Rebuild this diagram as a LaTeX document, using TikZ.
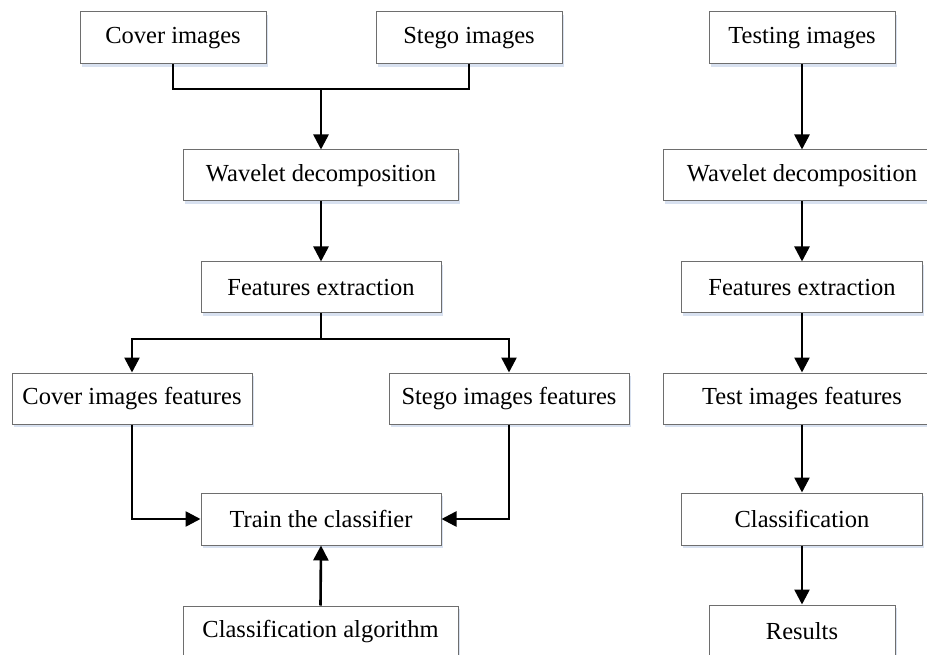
\documentclass[tikz,border=0pt]{standalone}
\usepackage{fontspec}
\setmainfont{Liberation Serif}
\usetikzlibrary{arrows.meta,shadows}
\definecolor{boxline}{RGB}{110,110,110}
\definecolor{shadowc}{RGB}{190,205,230}
\tikzset{
  box/.style={draw=boxline, line width=1pt, fill=white, rectangle,
    font=\fontsize{24.5}{28}\selectfont, inner sep=0pt,
    drop shadow={shadow xshift=1.5pt, shadow yshift=-3pt, fill=shadowc, opacity=0.6}},
  conn/.style={line width=2.6pt, black},
  arr/.style={conn, -{Triangle[length=15pt,width=15pt]}}
}
\begin{document}
\begin{tikzpicture}[x=1pt,y=-1pt]
\useasboundingbox (0,0) rectangle (927,655);
\clip (0,0) rectangle (927,655);
% left column
\node[box, minimum width=186pt, minimum height=52pt] (cover) at (173,38) {Cover images};
\node[box, minimum width=186pt, minimum height=52pt] (stego) at (469,38) {Stego images};
\node[box, minimum width=275pt, minimum height=51pt] (wavL) at (321,175.5) {Wavelet decomposition};
\node[box, minimum width=240pt, minimum height=51pt] (featL) at (321,287.5) {Features extraction};
\node[box, minimum width=240pt, minimum height=51pt] (coverF) at (132,398.5) {Cover images features};
\node[box, minimum width=240pt, minimum height=51pt] (stegoF) at (509,398.5) {Stego images features};
\node[box, minimum width=240pt, minimum height=52pt] (train) at (321,519) {Train the classifier};
\node[box, minimum width=275pt, minimum height=52pt] (algo) at (320.5,632) {Classification algorithm};
% right column
\node[box, minimum width=186pt, minimum height=52pt] (test) at (802,38) {Testing images};
\node[box, minimum width=278pt, minimum height=51pt] (wavR) at (802,175.5) {Wavelet decomposition};
\node[box, minimum width=241pt, minimum height=51pt] (featR) at (802,287.5) {Features extraction};
\node[box, minimum width=278pt, minimum height=51pt] (testF) at (802,398.5) {Test images features};
\node[box, minimum width=241pt, minimum height=52pt] (cls) at (802,519) {Classification};
\node[box, minimum width=186pt, minimum height=52pt] (res) at (802,631) {Results};
% junctions
\coordinate (j1) at (321,89);
\coordinate (j2) at (321,339);
% left connectors
\draw[conn] (cover.south) |- (j1) -| (stego.south);
\draw[arr] (j1) -- (wavL.north);
\draw[arr] (wavL.south) -- (featL.north);
\draw[conn] (featL.south) -- (j2);
\draw[arr] (j2) -| (coverF.north);
\draw[arr] (j2) -| (stegoF.north);
\draw[arr] (coverF.south) |- (train.west);
\draw[arr] (stegoF.south) |- (train.east);
\draw[arr] (algo.north) -- (train.south);
% right connectors
\draw[arr] (test.south) -- (wavR.north);
\draw[arr] (wavR.south) -- (featR.north);
\draw[arr] (featR.south) -- (testF.north);
\draw[arr] (testF.south) -- (cls.north);
\draw[arr] (cls.south) -- (res.north);
\end{tikzpicture}
\end{document}
